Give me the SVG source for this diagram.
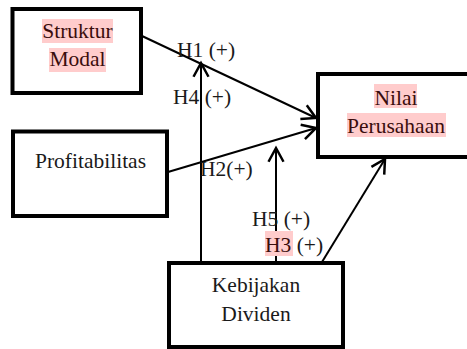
<svg xmlns="http://www.w3.org/2000/svg" width="467" height="349" viewBox="0 0 467 349">
<style>
.box{fill:#fff;stroke:#000;stroke-width:4}
.t{font-family:"Liberation Serif","Times New Roman",serif;font-size:21.5px;fill:#1a1a1a}
.m{text-anchor:middle}
.hl{fill:#ffcccc}
.ht{fill:#3a0d0d}
.c{stroke:#000;stroke-width:2;fill:none;marker-end:url(#arr)}
</style>
<defs>
<marker id="arr" markerUnits="userSpaceOnUse" markerWidth="20" markerHeight="20" viewBox="-12 -8 14 16" refX="0" refY="0" orient="auto">
<path d="M-11,-6 L0,0 L-11,6" fill="none" stroke="#000" stroke-width="2"/>
</marker>
</defs>
<rect width="467" height="349" fill="#fff"/>
<g id="connectors">
<line class="c" x1="142" y1="36" x2="316" y2="118"/>
<line class="c" x1="168" y1="172" x2="316" y2="128"/>
<line class="c" x1="201" y1="262" x2="201" y2="63"/>
<line class="c" x1="276" y1="262" x2="276" y2="148"/>
<line class="c" x1="322" y1="262" x2="385" y2="159"/>
</g>
<g id="struktur-modal">
<rect class="box" x="12.5" y="9" width="128.5" height="84"/>
<rect class="hl" x="42" y="19" width="71" height="24"/>
<rect class="hl" x="49" y="48" width="57" height="24"/>
<text class="t m ht" x="77.5" y="38">Struktur</text>
<text class="t m ht" x="77.5" y="66">Modal</text>
</g>
<g id="profitabilitas">
<rect class="box" x="13" y="131.5" width="154" height="84.5"/>
<text class="t m" x="90.5" y="168">Profitabilitas</text>
</g>
<g id="nilai-perusahaan">
<rect class="box" x="318" y="74" width="160" height="83"/>
<rect class="hl" x="374" y="84" width="43" height="24"/>
<rect class="hl" x="347" y="113" width="99" height="24"/>
<text class="t m ht" x="396" y="105">Nilai</text>
<text class="t m ht" x="396" y="133">Perusahaan</text>
</g>
<g id="kebijakan-dividen">
<rect class="box" x="169" y="263" width="174" height="84"/>
<text class="t m" x="256" y="292">Kebijakan</text>
<text class="t m" x="256" y="321">Dividen</text>
</g>
<g id="labels">
<text class="t" x="177" y="57">H1 (+)</text>
<text class="t" x="173" y="104">H4 (+)</text>
<text class="t" x="200" y="176">H2(+)</text>
<text class="t" x="252" y="226">H5 (+)</text>
<rect class="hl" x="265" y="231" width="28" height="25"/>
<text class="t" x="265" y="252"><tspan class="ht">H3</tspan> (+)</text>
</g>
</svg>
